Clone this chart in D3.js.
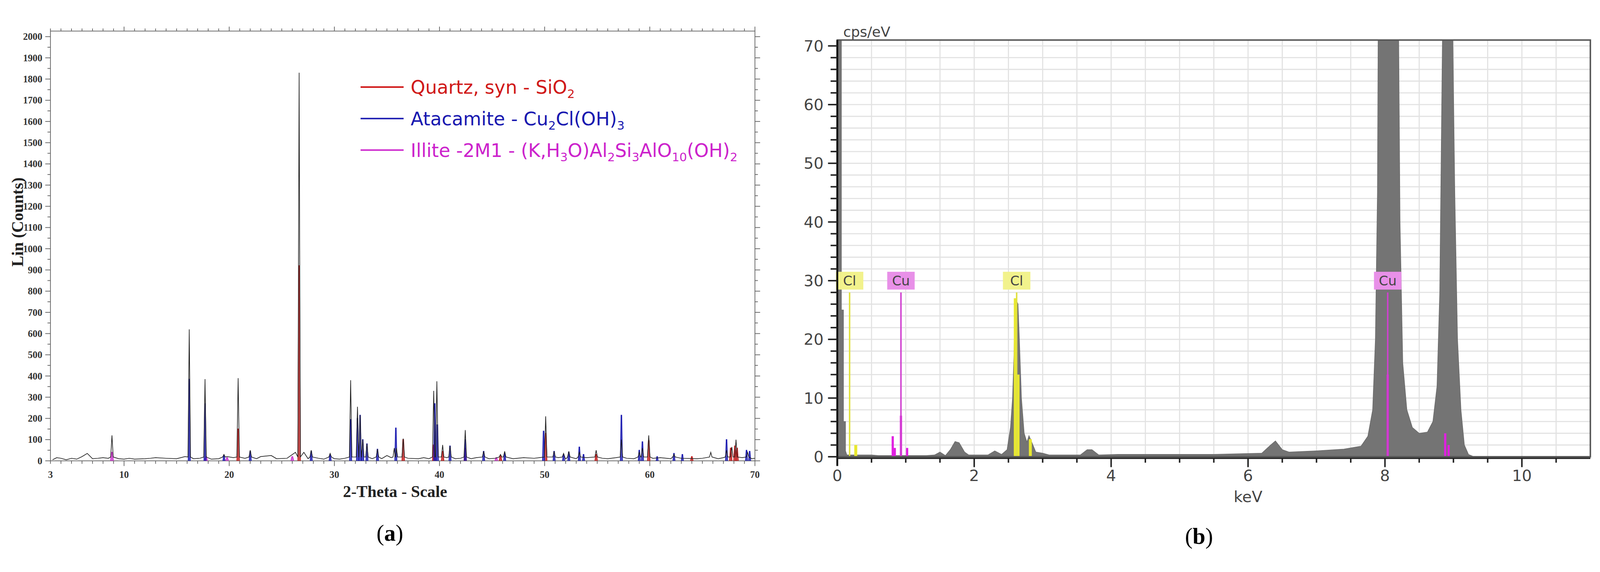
<!DOCTYPE html>
<html><head><meta charset="utf-8">
<script src="https://cdn.jsdelivr.net/npm/d3@7/dist/d3.min.js"></script>
<style>html,body{margin:0;padding:0;background:#fff;overflow:hidden}svg{display:block;width:100vw;height:100vh}</style>
</head><body><svg id="c" viewBox="0 0 4313 1465" preserveAspectRatio="xMidYMid meet"></svg>
<script>
// ---------- Panel (a): XRD ----------
const xrdXTicks = [3,10,20,30,40,50,60,70];
const xrdBackground = [[3.2,5],[3.6,15],[4,12],[4.5,5],[5,12],[5.5,8],[6,20],[6.5,35],[7,10],[7.5,12],[8,15],[8.5,12],
 [9.5,10],[10,8],[10.5,12],[11,8],[12,10],[12.5,12],[13,15],[14,12],[15,10],[15.8,20],[16.6,10],[17.2,12],[18.3,8],[19,10],
 [19.8,20],[20.4,15],[21.5,12],[22.6,10],[23,20],[24,25],[24.5,10],[25.5,12],[26.3,40],[27.1,40],[27.5,10],[28.5,12],
 [29,8],[30,10],[30.5,8],[31,12],[33.6,10],[34.5,10],[35,25],[35.4,15],[36,25],[37,12],[38,10],[38.5,15],[39,10],
 [40.7,15],[41.5,10],[42,12],[43,10],[43.5,15],[44.7,10],[45.3,12],[47,10],[48,15],[49,12],[49.5,15],[51.3,15],[52,8],
 [53,10],[54,15],[55.5,12],[56,10],[56.8,15],[57.8,12],[58.5,10],[60.3,12],[61,15],[62,10],[63,12],[64.5,10],[65,12],
 [66.5,10],[67,15],[68.8,15],[69.7,10],[70,12]];
const xrdPeaks = [[8.85,120],[16.2,620],[17.7,385],[19.5,30],[20.85,390],[22.0,50],[26.65,1830],[27.8,50],[29.6,35],
 [31.55,380],[32.2,255],[32.45,215],[32.7,100],[33.1,80],[34.1,55],[35.7,60],[35.9,60],[36.55,105],[39.45,330],
 [39.75,375],[40.3,75],[41.0,70],[42.45,145],[44.2,45],[45.8,30],[46.2,45],[50.1,210],[50.9,45],[51.8,35],[52.3,45],
 [53.3,40],[54.9,50],[57.3,100],[59.0,40],[59.3,60],[59.9,120],[62.3,30],[65.8,40],[67.3,50],[67.8,65],[68.2,100],[69.3,40]];
const quartzPeaks = [[20.85,150],[26.65,920],[36.55,100],[39.45,75],[40.3,45],[42.45,60],[45.8,25],[50.1,130],[54.9,30],
 [59.9,95],[64.0,20],[67.7,60],[68.1,70],[68.3,60]];
const atacamitePeaks = [[16.2,385],[17.7,270],[19.5,25],[22.0,45],[27.8,45],[29.6,30],[31.55,195],[32.2,200],[32.45,215],
 [32.7,100],[33.1,80],[34.1,55],[35.85,155],[39.55,270],[39.8,170],[41.0,70],[42.45,100],[44.2,45],[46.2,35],[49.9,140],
 [50.9,45],[51.8,30],[52.3,40],[53.3,65],[53.7,30],[57.3,215],[59.0,50],[59.3,90],[60.7,20],[62.3,35],[63.1,30],[67.3,100],
 [69.2,50],[69.5,45]];
const illitePeaks = [[8.85,40],[17.8,20],[19.8,15],[26.0,20],[45.4,15]];
const legendLabels = [
 {color:"#d01818", parts:[["Quartz, syn - SiO",0],["2",1]]},
 {color:"#1818b0", parts:[["Atacamite - Cu",0],["2",1],["Cl(OH)",0],["3",1]]},
 {color:"#cc22cc", parts:[["Illite -2M1 - (K,H",0],["3",1],["O)Al",0],["2",1],["Si",0],["3",1],["AlO",0],["10",1],["(OH)",0],["2",1]]}
];

// ---------- Panel (b): EDS ----------
const edsSpectrum = [[0,0],[0,72],[0.06,72],[0.06,25],[0.09,25],[0.09,6],[0.12,6],[0.12,1],[0.14,0.3],[0.5,0.3],[0.6,0.2],
 [1.3,0.2],[1.42,0.3],[1.5,0.8],[1.58,0.2],[1.65,1.2],[1.72,2.6],[1.78,2.4],[1.86,0.8],[1.92,0.3],[2.2,0.3],[2.3,1.0],
 [2.4,0.4],[2.48,1.2],[2.53,5],[2.56,10],[2.58,17],[2.6,27],[2.64,26],[2.66,20],[2.69,10],[2.73,4],[2.77,2.5],[2.8,3.6],
 [2.84,2.5],[2.9,0.8],[3.0,0.6],[3.1,0.3],[3.55,0.3],[3.65,1.2],[3.72,1.2],[3.82,0.3],[4.1,0.4],[5.5,0.4],[6.2,0.6],
 [6.33,2.0],[6.4,2.7],[6.5,1.2],[6.6,0.8],[7.0,1.0],[7.4,1.3],[7.65,1.8],[7.75,3.5],[7.82,8],[7.86,20],[7.89,45],[7.9,72],
 [8.2,72],[8.22,40],[8.26,16],[8.32,8],[8.4,5],[8.5,4],[8.62,4.2],[8.7,6],[8.76,12],[8.8,28],[8.84,72],[8.99,72],[9.02,45],
 [9.06,20],[9.11,8],[9.16,2],[9.22,0.4],[9.3,0]];
const edsXTicks = [0,2,4,6,8,10];
const edsYTicks = [0,10,20,30,40,50,60,70];
const edsMarkers = [{el:"Cl",e:0.18,kind:"Cl"},{el:"Cu",e:0.93,kind:"Cu"},{el:"Cl",e:2.62,kind:"Cl"},{el:"Cu",e:8.04,kind:"Cu"}];
const markerHeight = 28;
const clOverlay = [[0.27,2],[2.6,27],[2.64,14],[2.82,3]];
const cuOverlay = [[0.81,3.5],[0.84,1.5],[0.93,7],[1.02,1.5],[8.04,14],[8.88,4],[8.93,2]];

const svg = d3.select("#c");

// ===== Panel (a) =====
const xL = d3.scaleLinear([3,70],[136,2035]);
const yL = d3.scaleLinear([0,2000],[1204,60]);
const frameTopL = 45;
const gA = svg.append("g");
const serif = "'Liberation Serif','DejaVu Serif',serif";
gA.append("rect").attr("x",xL(3)).attr("y",frameTopL).attr("width",xL(70)-xL(3)).attr("height",yL(0)-frameTopL)
  .attr("fill","none").attr("stroke","#666").attr("stroke-width",2);
d3.range(3,71,1).forEach(v=>{
  const big = v%10===0;
  gA.append("line").attr("x1",xL(v)).attr("x2",xL(v)).attr("y1",yL(0)).attr("y2",yL(0)+(big?14:8)).attr("stroke","#666").attr("stroke-width",2);
  gA.append("line").attr("x1",xL(v)).attr("x2",xL(v)).attr("y1",frameTopL).attr("y2",frameTopL-(big?12:7)).attr("stroke","#666").attr("stroke-width",2);
});
d3.range(0,2001,50).forEach(v=>{
  const big = v%100===0;
  gA.append("line").attr("x1",xL(3)).attr("x2",xL(3)-(big?14:8)).attr("y1",yL(v)).attr("y2",yL(v)).attr("stroke","#666").attr("stroke-width",2);
  gA.append("line").attr("x1",xL(70)).attr("x2",xL(70)+(big?14:8)).attr("y1",yL(v)).attr("y2",yL(v)).attr("stroke","#666").attr("stroke-width",2);
  if(big) gA.append("text").attr("x",xL(3)-22).attr("y",yL(v)+9).attr("text-anchor","end")
    .attr("font-family",serif).attr("font-weight","bold").attr("font-size",26).attr("fill","#333").text(v);
});
xrdXTicks.forEach(v=>{
  gA.append("text").attr("x",xL(v)).attr("y",1250).attr("text-anchor","middle").attr("font-family",serif)
    .attr("font-weight","bold").attr("font-size",26).attr("fill","#333").text(v);
});
gA.append("text").attr("x",1065).attr("y",1302).attr("text-anchor","middle").attr("font-family",serif)
  .attr("font-weight","bold").attr("font-size",44).attr("fill","#222").text("2-Theta - Scale");
gA.append("text").attr("transform","translate(62,560) rotate(-90)").attr("text-anchor","middle").attr("font-family",serif)
  .attr("font-weight","bold").attr("font-size",44).attr("fill","#222").text("Lin (Counts)");
gA.append("text").attr("x",1051).attr("y",1420).attr("text-anchor","middle").attr("font-family",serif)
  .attr("font-size",62).attr("fill","#000").html("(<tspan font-weight='bold'>a</tspan>)");

function phase(data,color,w){
  data.forEach(([p,h])=>{
    gA.append("path").attr("d",d3.line()([[xL(p-w),yL(0)],[xL(p-w*0.3),yL(h)],[xL(p+w*0.3),yL(h)],[xL(p+w),yL(0)]]))
      .attr("fill",color).attr("fill-opacity",0.75).attr("stroke",color).attr("stroke-width",2);
  });
}
phase(illitePeaks,"#cc33cc",0.14);
phase(quartzPeaks,"#c01818",0.12);
phase(atacamitePeaks,"#1a1ab0",0.1);
const pts = xrdBackground.slice();
xrdPeaks.forEach(([p,h])=>{pts.push([p-0.12,18],[p,h],[p+0.12,18]);});
pts.sort((a,b)=>a[0]-b[0]);
gA.append("path").attr("d",d3.line().x(d=>xL(d[0])).y(d=>yL(d[1]))(pts)).attr("fill","none")
  .attr("stroke","#222").attr("stroke-width",1.8);
legendLabels.forEach((L,i)=>{
  const y = 196 + i*85;
  gA.append("line").attr("x1",972).attr("x2",1088).attr("y1",y).attr("y2",y).attr("stroke",L.color).attr("stroke-width",4);
  const t = gA.append("text").attr("x",1107).attr("y",y+18).attr("font-family","'DejaVu Sans',Verdana,sans-serif")
    .attr("font-size",50).attr("fill",L.color);
  let prevSub=false;
  L.parts.forEach(([s,sub])=>{
    const ts = t.append("tspan").text(s);
    if(sub) ts.attr("font-size",32).attr("dy",prevSub?0:12);
    else ts.attr("dy",prevSub?-12:0);
    prevSub = !!sub;
  });
});

// ===== Panel (b) =====
const xR = d3.scaleLinear([0,11],[2257,4287]);
const yR = d3.scaleLinear([0,70],[1193,85]);
const gB = svg.append("g");
const sans = "'DejaVu Sans',Verdana,sans-serif";
const topY = yR(71);
d3.range(0,71,2).forEach(v=>gB.append("line").attr("x1",xR(0)).attr("x2",xR(11)).attr("y1",yR(v)).attr("y2",yR(v))
  .attr("stroke","#e2e2e2").attr("stroke-width",3));
d3.range(0.5,11,0.5).forEach(v=>gB.append("line").attr("x1",xR(v)).attr("x2",xR(v)).attr("y1",topY).attr("y2",yR(0))
  .attr("stroke","#e2e2e2").attr("stroke-width",3));
svg.append("clipPath").attr("id","clipR").append("rect").attr("x",xR(0)).attr("y",topY).attr("width",xR(11)-xR(0)).attr("height",yR(0)-topY);
const gC = gB.append("g").attr("clip-path","url(#clipR)");
gC.append("path").attr("d",d3.area().x(d=>xR(d[0])).y0(yR(0)).y1(d=>yR(d[1]))(edsSpectrum))
  .attr("fill","#747474").attr("stroke","#6a6a6a").attr("stroke-width",1.5);
clOverlay.forEach(([e,h])=>gC.append("rect").attr("x",xR(e)-4).attr("width",8).attr("y",yR(h)).attr("height",yR(0)-yR(h)).attr("fill","#e8e830"));
cuOverlay.forEach(([e,h])=>gC.append("rect").attr("x",xR(e)-3).attr("width",6).attr("y",yR(h)).attr("height",yR(0)-yR(h)).attr("fill","#e020e0"));
edsMarkers.forEach(m=>{
  const col = m.kind==="Cl" ? "#e0e040" : "#d040d0";
  const box = m.kind==="Cl" ? "#f2f28c" : "#e890e8";
  gB.append("line").attr("x1",xR(m.e)).attr("x2",xR(m.e)).attr("y1",yR(markerHeight)).attr("y2",yR(0)).attr("stroke",col).attr("stroke-width",4);
  gB.append("rect").attr("x",xR(m.e)-37).attr("y",yR(30)-24).attr("width",74).attr("height",48).attr("fill",box);
  gB.append("text").attr("x",xR(m.e)).attr("y",yR(30)+13).attr("text-anchor","middle").attr("font-family",sans)
    .attr("font-size",36).attr("fill","#444").text(m.el);
});
gB.append("rect").attr("x",xR(0)).attr("y",topY).attr("width",xR(11)-xR(0)).attr("height",yR(0)-topY)
  .attr("fill","none").attr("stroke","#555").attr("stroke-width",4);
gB.append("line").attr("x1",xR(0)).attr("x2",xR(0)).attr("y1",topY).attr("y2",yR(0)+25).attr("stroke","#111").attr("stroke-width",5);
gB.append("line").attr("x1",xR(0)).attr("x2",xR(11)).attr("y1",yR(0)+4).attr("y2",yR(0)+4).attr("stroke","#222").attr("stroke-width",4);
d3.range(0,71,2).forEach(v=>{
  const big = v%10===0;
  gB.append("line").attr("x1",xR(0)).attr("x2",xR(0)-(big?25:18)).attr("y1",yR(v)).attr("y2",yR(v)).attr("stroke","#222").attr("stroke-width",4);
});
edsYTicks.forEach(v=>gB.append("text").attr("x",2220).attr("y",yR(v)+15).attr("text-anchor","end").attr("font-family",sans)
  .attr("font-size",42).attr("fill","#444").text(v));
d3.range(0.5,11,0.5).forEach(v=>{
  const big = v%2===0;
  gB.append("line").attr("x1",xR(v)).attr("x2",xR(v)).attr("y1",yR(0)+4).attr("y2",yR(0)+(big?28:16)).attr("stroke","#222").attr("stroke-width",4);
});
edsXTicks.forEach(v=>gB.append("text").attr("x",xR(v)).attr("y",1258).attr("text-anchor","middle").attr("font-family",sans)
  .attr("font-size",42).attr("fill","#444").text(v));
gB.append("text").attr("x",xR(6)).attr("y",1315).attr("text-anchor","middle").attr("font-family",sans)
  .attr("font-size",42).attr("fill","#444").text("keV");
gB.append("text").attr("x",2273).attr("y",60).attr("font-family",sans).attr("font-size",38).attr("fill","#444").text("cps/eV");
gB.append("text").attr("x",3232).attr("y",1428).attr("text-anchor","middle").attr("font-family",serif)
  .attr("font-size",62).attr("fill","#000").html("(<tspan font-weight='bold'>b</tspan>)");
</script></body></html>
